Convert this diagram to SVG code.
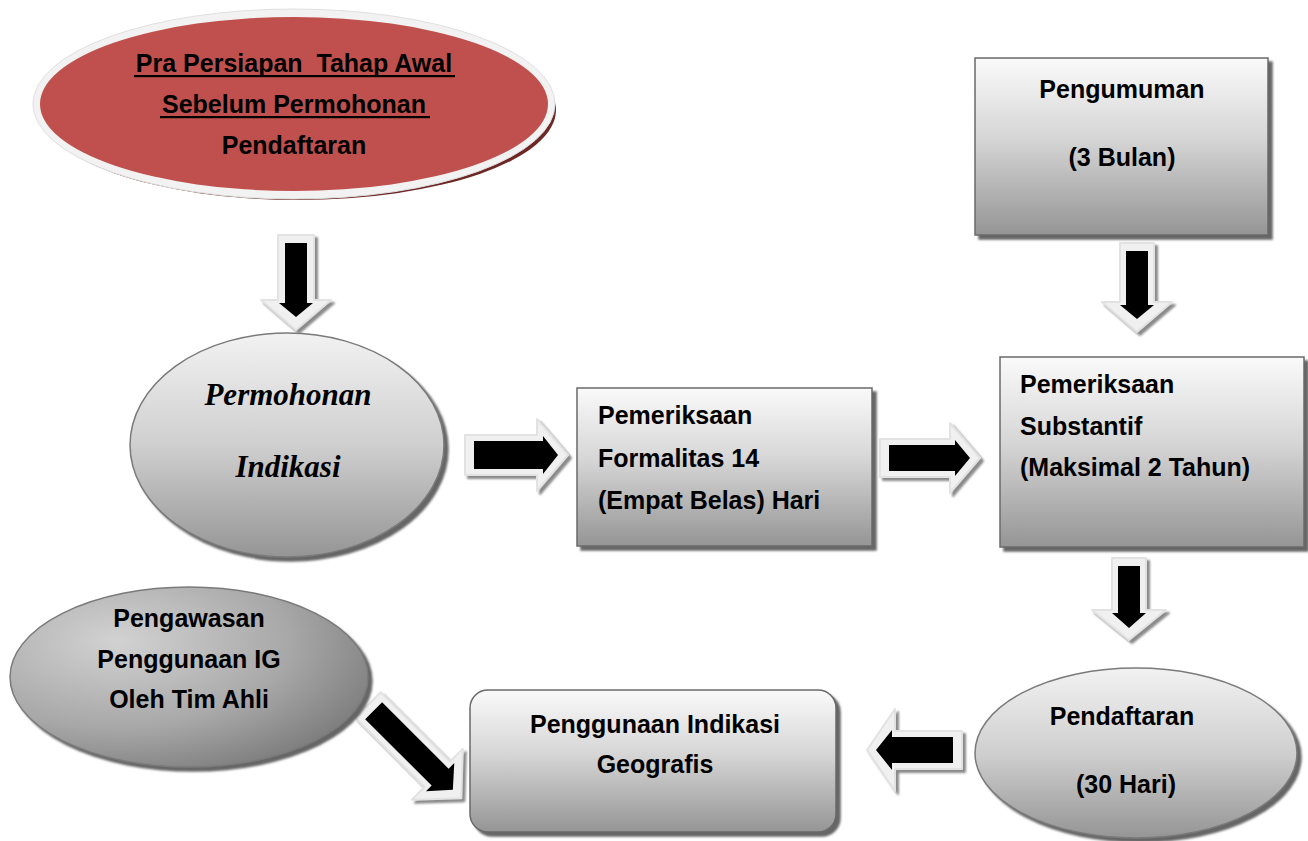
<svg xmlns="http://www.w3.org/2000/svg" width="1308" height="841" viewBox="0 0 1308 841">
<defs>
  <linearGradient id="gBox" x1="0" y1="0" x2="0" y2="1">
    <stop offset="0" stop-color="#fafafa"/>
    <stop offset="0.45" stop-color="#d6d6d6"/>
    <stop offset="1" stop-color="#959595"/>
  </linearGradient>
  <linearGradient id="gEll" x1="0" y1="0" x2="0" y2="1">
    <stop offset="0" stop-color="#f2f2f2"/>
    <stop offset="0.5" stop-color="#cfcfcf"/>
    <stop offset="1" stop-color="#959595"/>
  </linearGradient>
  <radialGradient id="gDark" cx="0.3" cy="0.3" r="0.8">
    <stop offset="0" stop-color="#d2d2d2"/>
    <stop offset="0.6" stop-color="#a8a8a8"/>
    <stop offset="1" stop-color="#7c7c7c"/>
  </radialGradient>
  <filter id="shBox" x="-10%" y="-10%" width="125%" height="125%">
    <feDropShadow dx="4" dy="4" stdDeviation="1" flood-color="#555555" flood-opacity="0.9"/>
  </filter>
  <filter id="shArr" x="-20%" y="-20%" width="150%" height="150%">
    <feDropShadow dx="3" dy="3" stdDeviation="0.8" flood-color="#8a8a8a"/>
  </filter>
  <style>
    .t { font-family: "Liberation Sans", Arial, sans-serif; font-weight: bold; font-size: 25px; fill: #000; white-space: pre; }
    .c { text-anchor: middle; }
    .ti { font-family: "Liberation Serif", "Times New Roman", serif; font-weight: bold; font-style: italic; font-size: 31px; fill: #000; text-anchor: middle; }
    .box { fill: url(#gBox); stroke: #6a6a6a; stroke-width: 1.5; filter: url(#shBox); }
    .ell { fill: url(#gEll); stroke: #7a7a7a; stroke-width: 1.5; filter: url(#shBox); }
    .out { fill: #f0f0f0; stroke: #e2e2e2; stroke-width: 2; stroke-linejoin: round; }
    .blk { fill: #000; }
  </style>
</defs>
<rect width="1308" height="841" fill="#ffffff"/>

<g id="connectors">
  <g filter="url(#shArr)"><g transform="translate(296,235) rotate(90)">
    <polygon class="out" points="0,-18 65,-18 65,-35 95,0 65,35 65,18 0,18"/>
    <polygon class="blk" points="8,-11 68,-11 68,-17 82,0 68,17 68,11 8,11"/>
  </g></g>
  <g filter="url(#shArr)"><g transform="translate(1137,243) rotate(90)">
    <polygon class="out" points="0,-17 59,-17 59,-35 89,0 59,35 59,17 0,17"/>
    <polygon class="blk" points="8,-11 62,-11 62,-17 76,0 62,17 62,11 8,11"/>
  </g></g>
  <g filter="url(#shArr)"><g transform="translate(1129,558) rotate(90)">
    <polygon class="out" points="0,-17 52,-17 52,-37 82,0 52,37 52,17 0,17"/>
    <polygon class="blk" points="8,-11 55,-11 55,-17 70,0 55,17 55,11 8,11"/>
  </g></g>
  <g filter="url(#shArr)"><g transform="translate(465,455)">
    <polygon class="out" points="0,-20 72,-20 72,-36 103,0 72,36 72,20 0,20"/>
    <polygon class="blk" points="9,-14 78,-14 78,-19 93,0 78,19 78,14 9,14"/>
  </g></g>
  <g filter="url(#shArr)"><g transform="translate(880,458)">
    <polygon class="out" points="0,-19 70,-19 70,-35 100,0 70,35 70,19 0,19"/>
    <polygon class="blk" points="9,-13 75,-13 75,-18 90,0 75,18 75,13 9,13"/>
  </g></g>
  <g filter="url(#shArr)"><g transform="translate(962,750) rotate(180)">
    <polygon class="out" points="0,-19 67,-19 67,-41 95,0 67,41 67,19 0,19"/>
    <polygon class="blk" points="9,-13 70,-13 70,-20 86,0 70,20 70,13 9,13"/>
  </g></g>
  <g filter="url(#shArr)"><g transform="translate(368,705) rotate(45)">
    <polygon class="out" points="0,-18 98,-18 98,-36 132,0 98,36 98,18 0,18"/>
    <polygon class="blk" points="8,-12 102,-12 102,-20 120,0 102,20 102,12 8,12"/>
  </g></g>
</g>

<g id="node-pra">
  <ellipse cx="298" cy="110" rx="258" ry="90" fill="#6e2725"/>
  <ellipse cx="294" cy="104" rx="261" ry="95" fill="#f2f2f2" stroke="#e0e0e0" stroke-width="1"/>
  <ellipse cx="294" cy="104" rx="254" ry="87" fill="#c0504d"/>
  <text class="t c" x="294" y="72" xml:space="preserve">Pra Persiapan  Tahap Awal</text>
  <rect x="134" y="75" width="321" height="2.2" fill="#000"/>
  <text class="t c" x="294" y="113">Sebelum Permohonan</text>
  <rect x="160" y="116" width="270" height="2.2" fill="#000"/>
  <text class="t c" x="294" y="154">Pendaftaran</text>
</g>

<g id="node-permohonan">
  <ellipse class="ell" cx="287" cy="445" rx="157" ry="112"/>
  <text class="ti" x="288" y="405">Permohonan</text>
  <text class="ti" x="288" y="477">Indikasi</text>
</g>

<g id="node-formalitas">
  <rect class="box" x="577" y="388" width="295" height="158"/>
  <text class="t" x="598" y="424">Pemeriksaan</text>
  <text class="t" x="598" y="467">Formalitas 14</text>
  <text class="t" x="598" y="509">(Empat Belas) Hari</text>
</g>

<g id="node-pengumuman">
  <rect class="box" x="975" y="58" width="293" height="177"/>
  <text class="t c" x="1122" y="98">Pengumuman</text>
  <text class="t c" x="1122" y="166">(3 Bulan)</text>
</g>

<g id="node-substantif">
  <rect class="box" x="1000" y="357" width="304" height="190"/>
  <text class="t" x="1020" y="393">Pemeriksaan</text>
  <text class="t" x="1020" y="435">Substantif</text>
  <text class="t" x="1020" y="476">(Maksimal 2 Tahun)</text>
</g>

<g id="node-pendaftaran">
  <ellipse class="ell" cx="1136" cy="753" rx="161" ry="85"/>
  <text class="t c" x="1122" y="725">Pendaftaran</text>
  <text class="t c" x="1126" y="793">(30 Hari)</text>
</g>

<g id="node-penggunaan">
  <rect class="box" x="470" y="690" width="366" height="142" rx="18" ry="18"/>
  <text class="t c" x="655" y="733">Penggunaan Indikasi</text>
  <text class="t c" x="655" y="773">Geografis</text>
</g>

<g id="node-pengawasan">
  <ellipse cx="189" cy="677" rx="179" ry="90" fill="url(#gDark)" stroke="#7a7a7a" stroke-width="1.5" filter="url(#shBox)"/>
  <text class="t c" x="189" y="627">Pengawasan</text>
  <text class="t c" x="189" y="668">Penggunaan IG</text>
  <text class="t c" x="189" y="708">Oleh Tim Ahli</text>
</g>
</svg>
